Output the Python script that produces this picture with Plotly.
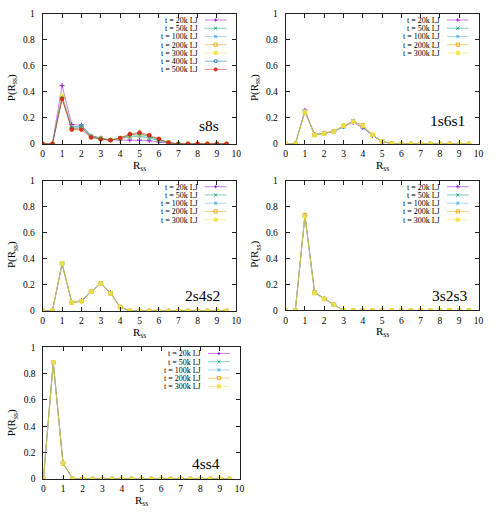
import plotly.graph_objects as go

W, H = 498, 519

# ---------------- data ----------------
r_ss = [0, 0.5, 1, 1.5, 2, 2.5, 3, 3.5, 4, 4.5, 5, 5.5, 6, 6.5, 7, 7.5, 8, 8.5, 9, 9.5]
x_ticks = [0, 1, 2, 3, 4, 5, 6, 7, 8, 9, 10]
y_ticks = [0, 0.2, 0.4, 0.6, 0.8, 1]
series_names7 = ["t = 20k LJ", "t = 50k LJ", "t = 100k LJ", "t = 200k LJ",
                 "t = 300k LJ", "t = 400k LJ", "t = 500k LJ"]
series_names5 = series_names7[:5]

# s8s
s8s_20k  = [0, 0, 0.45, 0.15, 0.145, 0.06, 0.045, 0.03, 0.03, 0.03, 0.03, 0.025, 0.015, 0.005, 0, 0, 0, 0, 0, 0]
s8s_50k  = [0, 0, 0.37, 0.13, 0.14, 0.065, 0.045, 0.03, 0.045, 0.055, 0.06, 0.045, 0.025, 0.01, 0, 0, 0, 0, 0, 0]
s8s_100k = [0, 0, 0.365, 0.13, 0.135, 0.06, 0.04, 0.03, 0.045, 0.06, 0.065, 0.05, 0.03, 0.01, 0, 0, 0, 0, 0, 0]
s8s_200k = [0, 0, 0.36, 0.12, 0.12, 0.055, 0.04, 0.03, 0.045, 0.065, 0.075, 0.06, 0.035, 0.01, 0, 0, 0, 0, 0, 0]
s8s_300k = [0, 0, 0.37, 0.115, 0.115, 0.055, 0.04, 0.03, 0.045, 0.07, 0.075, 0.06, 0.035, 0.01, 0, 0, 0, 0, 0, 0]
s8s_400k = [0, 0, 0.35, 0.12, 0.125, 0.055, 0.04, 0.03, 0.045, 0.07, 0.08, 0.06, 0.035, 0.01, 0, 0, 0, 0, 0, 0]
s8s_500k = [0, 0, 0.345, 0.11, 0.11, 0.05, 0.035, 0.028, 0.045, 0.077, 0.088, 0.068, 0.04, 0.01, 0, 0, 0, 0, 0, 0]

# 1s6s1
a1_20k  = [0, 0, 0.26, 0.073, 0.083, 0.098, 0.135, 0.165, 0.125, 0.065, 0.02, 0.003, 0, 0, 0, 0, 0, 0, 0, 0]
a1_50k  = [0, 0, 0.25, 0.07, 0.082, 0.097, 0.13, 0.18, 0.13, 0.068, 0.02, 0.003, 0, 0, 0, 0, 0, 0, 0, 0]
a1_100k = [0, 0, 0.25, 0.07, 0.082, 0.097, 0.14, 0.175, 0.14, 0.07, 0.02, 0.003, 0, 0, 0, 0, 0, 0, 0, 0]
a1_200k = [0, 0, 0.245, 0.07, 0.08, 0.097, 0.14, 0.17, 0.145, 0.07, 0.02, 0.003, 0, 0, 0, 0, 0, 0, 0, 0]
a1_300k = [0, 0, 0.245, 0.068, 0.08, 0.097, 0.14, 0.17, 0.14, 0.07, 0.02, 0.003, 0, 0, 0, 0, 0, 0, 0, 0]

# 2s4s2
b2_20k  = [0, 0, 0.36, 0.065, 0.08, 0.15, 0.21, 0.14, 0.03, 0, 0, 0, 0, 0, 0, 0, 0, 0, 0, 0]
b2_50k  = [0, 0, 0.365, 0.065, 0.075, 0.148, 0.21, 0.135, 0.03, 0, 0, 0, 0, 0, 0, 0, 0, 0, 0, 0]
b2_100k = [0, 0, 0.365, 0.065, 0.075, 0.148, 0.21, 0.135, 0.03, 0, 0, 0, 0, 0, 0, 0, 0, 0, 0, 0]
b2_200k = [0, 0, 0.366, 0.065, 0.075, 0.148, 0.21, 0.135, 0.03, 0, 0, 0, 0, 0, 0, 0, 0, 0, 0, 0]
b2_300k = [0, 0, 0.366, 0.065, 0.075, 0.148, 0.21, 0.135, 0.03, 0, 0, 0, 0, 0, 0, 0, 0, 0, 0, 0]

# 3s2s3
c3_20k  = [0, 0, 0.73, 0.14, 0.09, 0.045, 0, 0, 0, 0, 0, 0, 0, 0, 0, 0, 0, 0, 0, 0]
c3_50k  = [0, 0, 0.73, 0.145, 0.09, 0.045, 0, 0, 0, 0, 0, 0, 0, 0, 0, 0, 0, 0, 0, 0]
c3_100k = [0, 0, 0.73, 0.14, 0.09, 0.045, 0, 0, 0, 0, 0, 0, 0, 0, 0, 0, 0, 0, 0, 0]
c3_200k = [0, 0, 0.735, 0.135, 0.09, 0.045, 0, 0, 0, 0, 0, 0, 0, 0, 0, 0, 0, 0, 0, 0]
c3_300k = [0, 0, 0.725, 0.135, 0.09, 0.045, 0, 0, 0, 0, 0, 0, 0, 0, 0, 0, 0, 0, 0, 0]

# 4ss4
d4_20k  = [0, 0.885, 0.12, 0, 0, 0, 0, 0, 0, 0, 0, 0, 0, 0, 0, 0, 0, 0, 0, 0]
d4_50k  = [0, 0.885, 0.12, 0, 0, 0, 0, 0, 0, 0, 0, 0, 0, 0, 0, 0, 0, 0, 0, 0]
d4_100k = [0, 0.885, 0.12, 0, 0, 0, 0, 0, 0, 0, 0, 0, 0, 0, 0, 0, 0, 0, 0, 0]
d4_200k = [0, 0.885, 0.12, 0, 0, 0, 0, 0, 0, 0, 0, 0, 0, 0, 0, 0, 0, 0, 0, 0]
d4_300k = [0, 0.885, 0.12, 0, 0, 0, 0, 0, 0, 0, 0, 0, 0, 0, 0, 0, 0, 0, 0, 0]

panel_labels = ["s8s", "1s6s1", "2s4s2", "3s2s3", "4ss4"]

# ---------------- styling ----------------
colors = ["#9400d3", "#009e73", "#56b4e9", "#e69f00", "#f0e442", "#0072b2", "#e51e10"]
symbols = ["cross-thin-open", "x-thin-open", "asterisk-open", "square-open",
           "square", "circle-open", "circle"]
FONT = "Liberation Serif"


def rgba(hexc, a):
    h = hexc.lstrip("#")
    return "rgba(%d,%d,%d,%.2f)" % (int(h[0:2], 16), int(h[2:4], 16), int(h[4:6], 16), a)


# panel geometry in pixels: left, right, top, bottom
geom = [
    (41.3, 237.7, 9.0, 141.7),
    (287.7, 483.3, 9.0, 141.7),
    (41.3, 237.7, 179.0, 312.0),
    (287.7, 483.3, 179.0, 311.5),
    (42.0, 241.0, 349.0, 483.3),
]
label_pos = [(209.5, 123), (452, 118), (203.7, 296.7), (454, 296.7), (207, 468)]

panels = [
    [s8s_20k, s8s_50k, s8s_100k, s8s_200k, s8s_300k, s8s_400k, s8s_500k],
    [a1_20k, a1_50k, a1_100k, a1_200k, a1_300k],
    [b2_20k, b2_50k, b2_100k, b2_200k, b2_300k],
    [c3_20k, c3_50k, c3_100k, c3_200k, c3_300k],
    [d4_20k, d4_50k, d4_100k, d4_200k, d4_300k],
]


def px(x):
    return x / W


def py(y):
    return 1 - y / H


fig = go.Figure()
shapes = []
annotations = []

for p, (series, g) in enumerate(zip(panels, geom)):
    L, R, T, B = g
    ax = "" if p == 0 else str(p + 1)
    names = series_names7 if len(series) == 7 else series_names5
    for i, vals in enumerate(series):
        fig.add_trace(go.Scatter(
            x=r_ss, y=vals, mode="lines+markers", name=names[i],
            xaxis="x" + ax, yaxis="y" + ax, showlegend=False,
            line=dict(color=rgba(colors[i], 0.5), width=1),
            marker=dict(symbol=symbols[i], size=3.5, color=rgba(colors[i], 0.85),
                        line=dict(color=rgba(colors[i], 0.85), width=1)),
        ))
    axis_common = dict(
        showline=True, linecolor="#222", linewidth=1, mirror="allticks",
        ticks="inside", ticklen=4, tickcolor="#222", tickwidth=1,
        showgrid=False, zeroline=False,
        tickfont=dict(family=FONT, size=9.5, color="#000"),
    )
    fig.update_layout(**{
        "xaxis" + ax: dict(domain=[px(L), px(R)], range=[0, 10], tickvals=x_ticks,
                           anchor="y" + ax, ticklabelstandoff=1, **axis_common),
        "yaxis" + ax: dict(domain=[py(B), py(T)], range=[0, 1], tickvals=y_ticks,
                           anchor="x" + ax, ticklabelstandoff=5, **axis_common),
    })
    # axis titles
    annotations.append(dict(text="R<sub>ss</sub>", x=px((L + R) / 2), y=py(B + 22),
                            xref="paper", yref="paper", showarrow=False,
                            xanchor="center", yanchor="middle", borderpad=0,
                            font=dict(family=FONT, size=11, color="#000")))
    annotations.append(dict(text="P(R<sub>ss</sub>)", x=px(L - 31), y=py(T + 0.57 * (B - T)),
                            xref="paper", yref="paper", showarrow=False, textangle=-90,
                            xanchor="center", yanchor="middle", borderpad=0,
                            font=dict(family=FONT, size=11, color="#000")))
    # panel label
    lx, ly = label_pos[p]
    annotations.append(dict(text=panel_labels[p], x=px(lx), y=py(ly),
                            xref="paper", yref="paper", showarrow=False,
                            xanchor="center", yanchor="middle",
                            font=dict(family=FONT, size=15.5, color="#000")))
    # manual legend
    for i, nm in enumerate(names):
        yy = T + 6.3 + i * 8.4
        annotations.append(dict(text=nm, x=px(R - 38), y=py(yy),
                                xref="paper", yref="paper", showarrow=False,
                                xanchor="right", yanchor="middle", borderpad=0,
                                height=8,
                                font=dict(family=FONT, size=8, color="#000")))
        shapes.append(dict(type="line", xref="paper", yref="paper",
                           x0=px(R - 32), x1=px(R - 10), y0=py(yy), y1=py(yy),
                           line=dict(color=rgba(colors[i], 0.5), width=1)))
        cx, cy, s = R - 21, yy, 1.6
        c = rgba(colors[i], 0.85)
        sym = symbols[i]
        segs = []
        if sym in ("cross-thin-open", "asterisk-open"):
            segs += [((cx - s, cy), (cx + s, cy)), ((cx, cy - s), (cx, cy + s))]
        if sym in ("x-thin-open", "asterisk-open"):
            segs += [((cx - s, cy - s), (cx + s, cy + s)), ((cx - s, cy + s), (cx + s, cy - s))]
        for (a, b) in segs:
            shapes.append(dict(type="line", xref="paper", yref="paper",
                               x0=px(a[0]), y0=py(a[1]), x1=px(b[0]), y1=py(b[1]),
                               line=dict(color=c, width=1)))
        if sym.startswith("square") or sym.startswith("circle"):
            shapes.append(dict(type="rect" if sym.startswith("square") else "circle",
                               xref="paper", yref="paper",
                               x0=px(cx - s), x1=px(cx + s), y0=py(cy + s), y1=py(cy - s),
                               line=dict(color=c, width=1),
                               fillcolor=c if not sym.endswith("open") else "rgba(0,0,0,0)"))

fig.update_layout(
    width=W, height=H, margin=dict(l=0, r=0, t=0, b=0),
    paper_bgcolor="white", plot_bgcolor="white",
    showlegend=False, shapes=shapes, annotations=annotations,
    font=dict(family=FONT, color="#000"),
)

fig.write_html("out.html", config={"displayModeBar": False},
               post_script="document.body.style.margin='0';")
